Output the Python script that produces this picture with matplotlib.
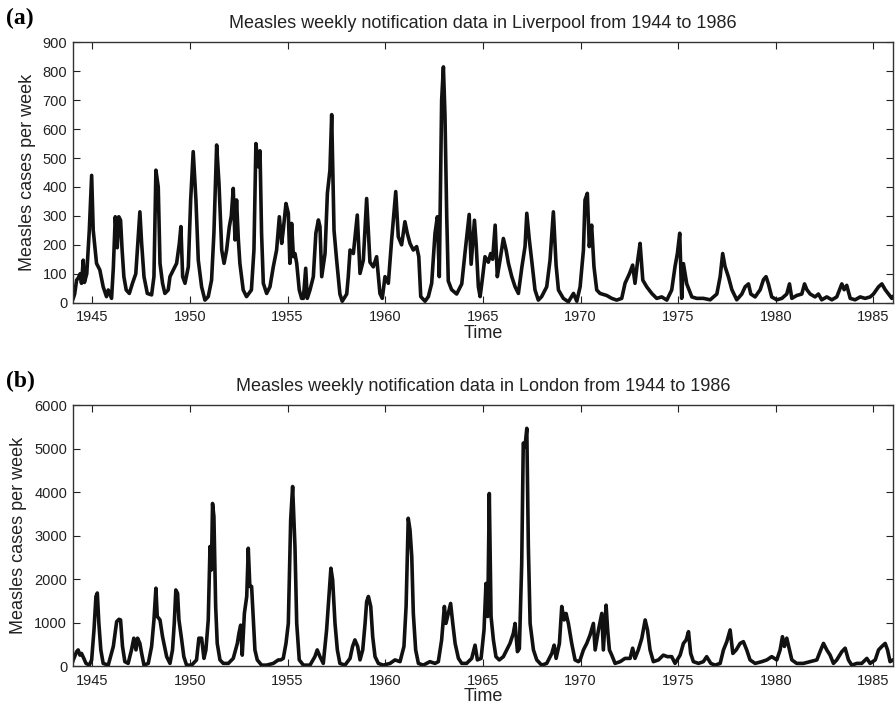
import matplotlib
matplotlib.use("Agg")
import matplotlib.pyplot as plt

plt.rcParams['font.family'] = ['Liberation Sans', 'DejaVu Sans']

# ---------------- data ----------------
liverpool_year = [
    1944.00, 1944.03, 1944.10, 1944.20, 1944.28, 1944.38, 1944.45, 1944.54, 1944.60, 1944.72,
    1944.85, 1944.97, 1945.05, 1945.22, 1945.39, 1945.56, 1945.73, 1945.82, 1945.99, 1946.08,
    1946.18, 1946.28, 1946.36, 1946.45, 1946.53, 1946.62, 1946.74, 1946.90, 1947.06, 1947.23,
    1947.31, 1947.44, 1947.53, 1947.65, 1947.82, 1948.04, 1948.16, 1948.26, 1948.38, 1948.47,
    1948.60, 1948.72, 1948.89, 1948.98, 1949.15, 1949.32, 1949.46, 1949.54, 1949.63, 1949.75,
    1949.92, 1950.04, 1950.17, 1950.31, 1950.43, 1950.60, 1950.77, 1950.94, 1951.11, 1951.23,
    1951.37, 1951.49, 1951.63, 1951.75, 1951.88, 1952.02, 1952.12, 1952.22, 1952.31, 1952.39,
    1952.48, 1952.56, 1952.73, 1952.90, 1953.15, 1953.28, 1953.38, 1953.50, 1953.59, 1953.67,
    1953.76, 1953.93, 1954.10, 1954.27, 1954.44, 1954.58, 1954.70, 1954.78, 1954.92, 1955.04,
    1955.12, 1955.21, 1955.30, 1955.38, 1955.47, 1955.60, 1955.72, 1955.81, 1955.93, 1956.01,
    1956.15, 1956.32, 1956.45, 1956.58, 1956.66, 1956.75, 1956.92, 1957.04, 1957.17, 1957.26,
    1957.38, 1957.51, 1957.68, 1957.80, 1958.03, 1958.11, 1958.20, 1958.37, 1958.57, 1958.71,
    1958.88, 1959.05, 1959.22, 1959.39, 1959.56, 1959.73, 1959.85, 1959.99, 1960.16, 1960.33,
    1960.54, 1960.67, 1960.84, 1961.01, 1961.13, 1961.27, 1961.44, 1961.61, 1961.72, 1961.82,
    1962.04, 1962.21, 1962.38, 1962.55, 1962.67, 1962.77, 1962.89, 1962.98, 1963.06, 1963.15,
    1963.23, 1963.40, 1963.66, 1963.92, 1964.09, 1964.30, 1964.40, 1964.57, 1964.66, 1964.77,
    1964.86, 1964.99, 1965.11, 1965.28, 1965.40, 1965.50, 1965.63, 1965.74, 1965.88, 1966.05,
    1966.19, 1966.31, 1966.48, 1966.65, 1966.82, 1967.00, 1967.16, 1967.25, 1967.38, 1967.50,
    1967.67, 1967.84, 1968.01, 1968.27, 1968.44, 1968.61, 1968.75, 1968.87, 1969.12, 1969.38,
    1969.64, 1969.81, 1969.98, 1970.15, 1970.23, 1970.35, 1970.45, 1970.57, 1970.69, 1970.83,
    1971.00, 1971.34, 1971.60, 1971.85, 1972.11, 1972.28, 1972.51, 1972.67, 1972.79, 1972.93,
    1973.05, 1973.19, 1973.39, 1973.65, 1973.90, 1974.16, 1974.42, 1974.67, 1974.84, 1974.96,
    1975.08, 1975.18, 1975.27, 1975.44, 1975.70, 1975.95, 1976.29, 1976.64, 1976.98, 1977.15,
    1977.28, 1977.40, 1977.57, 1977.75, 1978.00, 1978.26, 1978.43, 1978.60, 1978.72, 1978.94,
    1979.20, 1979.37, 1979.50, 1979.62, 1979.79, 1980.05, 1980.31, 1980.56, 1980.70, 1980.82,
    1981.07, 1981.33, 1981.47, 1981.59, 1981.76, 1982.01, 1982.18, 1982.35, 1982.61, 1982.87,
    1983.12, 1983.38, 1983.50, 1983.63, 1983.81, 1984.06, 1984.32, 1984.57, 1984.83, 1985.00,
    1985.26, 1985.43, 1985.60, 1985.77, 1985.94, 1986.00,
]
liverpool_cases = [
    10, 15, 30, 78, 85, 100, 67, 147, 70, 100,
    250, 440, 251, 136, 113, 55, 21, 44, 15, 120,
    297, 190, 297, 285, 182, 90, 44, 32, 67, 100,
    182, 314, 205, 90, 32, 27, 90, 458, 400, 136,
    67, 32, 44, 90, 113, 136, 205, 263, 90, 67,
    124, 355, 522, 355, 147, 55, 9, 21, 78, 240,
    545, 412, 182, 136, 182, 263, 300, 395, 217, 355,
    220, 136, 44, 21, 44, 182, 550, 470, 525, 240,
    67, 32, 55, 124, 182, 297, 205, 251, 343, 309,
    136, 274, 159, 170, 136, 44, 15, 15, 119, 15,
    44, 90, 240, 286, 263, 90, 170, 378, 458, 650,
    250, 150, 30, 5, 30, 90, 182, 170, 303, 101,
    147, 360, 140, 124, 159, 32, 15, 90, 67, 217,
    384, 228, 200, 280, 240, 205, 182, 194, 159, 21,
    5, 21, 67, 240, 297, 90, 700, 815, 650, 300,
    75, 45, 30, 65, 175, 305, 133, 285, 200, 55,
    21, 90, 159, 140, 170, 150, 268, 90, 147, 222,
    182, 136, 90, 55, 32, 124, 194, 309, 217, 147,
    44, 9, 21, 55, 147, 314, 130, 44, 15, 3,
    32, 5, 55, 182, 355, 378, 194, 268, 124, 44,
    32, 25, 15, 9, 15, 67, 101, 130, 67, 147,
    205, 78, 55, 32, 15, 20, 9, 44, 125, 170,
    240, 15, 135, 65, 20, 15, 15, 10, 30, 90,
    170, 125, 90, 45, 10, 30, 55, 65, 30, 20,
    45, 80, 90, 65, 20, 10, 15, 30, 65, 15,
    25, 30, 65, 45, 30, 20, 30, 10, 20, 10,
    20, 65, 45, 60, 15, 10, 20, 15, 20, 30,
    55, 65, 45, 30, 15, 20,
]

london_year = [
    1944.00, 1944.03, 1944.20, 1944.28, 1944.37, 1944.45, 1944.57, 1944.68, 1944.85, 1944.97,
    1945.09, 1945.19, 1945.26, 1945.34, 1945.44, 1945.56, 1945.82, 1946.08, 1946.25, 1946.37,
    1946.45, 1946.55, 1946.67, 1946.84, 1947.01, 1947.13, 1947.24, 1947.32, 1947.44, 1947.53,
    1947.65, 1947.87, 1948.04, 1948.16, 1948.26, 1948.33, 1948.47, 1948.60, 1948.81, 1948.98,
    1949.11, 1949.20, 1949.28, 1949.37, 1949.44, 1949.58, 1949.69, 1949.83, 1950.09, 1950.34,
    1950.46, 1950.60, 1950.72, 1950.82, 1950.94, 1951.03, 1951.10, 1951.16, 1951.23, 1951.32,
    1951.40, 1951.54, 1951.71, 1951.97, 1952.22, 1952.43, 1952.51, 1952.60, 1952.68, 1952.79,
    1952.91, 1952.99, 1953.07, 1953.16, 1953.24, 1953.33, 1953.45, 1953.67, 1953.93, 1954.27,
    1954.53, 1954.65, 1954.78, 1954.92, 1955.04, 1955.16, 1955.26, 1955.38, 1955.47, 1955.60,
    1955.81, 1956.15, 1956.40, 1956.52, 1956.66, 1956.83, 1957.00, 1957.12, 1957.22, 1957.31,
    1957.43, 1957.55, 1957.68, 1957.94, 1958.20, 1958.33, 1958.45, 1958.59, 1958.71, 1958.85,
    1958.97, 1959.05, 1959.14, 1959.26, 1959.36, 1959.48, 1959.65, 1959.90, 1960.25, 1960.50,
    1960.76, 1960.96, 1961.07, 1961.18, 1961.27, 1961.36, 1961.44, 1961.56, 1961.70, 1961.95,
    1962.29, 1962.55, 1962.72, 1962.89, 1963.03, 1963.11, 1963.23, 1963.35, 1963.46, 1963.58,
    1963.75, 1963.92, 1964.17, 1964.43, 1964.60, 1964.72, 1964.91, 1965.06, 1965.16, 1965.25,
    1965.33, 1965.42, 1965.54, 1965.67, 1965.84, 1966.05, 1966.22, 1966.39, 1966.56, 1966.65,
    1966.77, 1966.87, 1966.99, 1967.07, 1967.16, 1967.25, 1967.33, 1967.42, 1967.59, 1967.76,
    1968.01, 1968.27, 1968.53, 1968.65, 1968.75, 1968.92, 1969.04, 1969.16, 1969.26, 1969.38,
    1969.55, 1969.72, 1969.89, 1969.98, 1970.15, 1970.32, 1970.49, 1970.66, 1970.75, 1970.92,
    1971.09, 1971.17, 1971.31, 1971.39, 1971.48, 1971.60, 1971.77, 1972.03, 1972.28, 1972.54,
    1972.67, 1972.79, 1972.96, 1973.14, 1973.31, 1973.43, 1973.56, 1973.73, 1973.99, 1974.24,
    1974.45, 1974.67, 1974.84, 1975.10, 1975.27, 1975.41, 1975.53, 1975.64, 1975.78, 1976.04,
    1976.29, 1976.46, 1976.67, 1976.89, 1977.15, 1977.32, 1977.49, 1977.66, 1977.80, 1977.97,
    1978.17, 1978.34, 1978.51, 1978.68, 1978.94, 1979.28, 1979.54, 1979.79, 1980.05, 1980.22,
    1980.34, 1980.44, 1980.56, 1980.70, 1980.82, 1981.07, 1981.41, 1981.76, 1982.10, 1982.30,
    1982.44, 1982.61, 1982.78, 1982.95, 1983.12, 1983.38, 1983.55, 1983.72, 1983.89, 1984.15,
    1984.40, 1984.66, 1984.83, 1985.09, 1985.26, 1985.43, 1985.60, 1985.72, 1985.85, 1986.00,
]
london_cases = [
    100, 140, 330, 370, 250, 290, 175, 60, 20, 140,
    830, 1600, 1680, 980, 370, 60, 20, 450, 1020, 1075,
    1060, 450, 100, 60, 370, 640, 370, 640, 520, 290,
    20, 60, 450, 1060, 1790, 1140, 1060, 675, 215, 60,
    370, 980, 1750, 1670, 1060, 600, 215, 20, 20, 140,
    640, 640, 175, 370, 1060, 2750, 2210, 3740, 3440, 1370,
    520, 140, 60, 60, 175, 520, 750, 940, 250, 1210,
    1600, 2710, 1830, 1830, 1140, 370, 140, 20, 20, 60,
    140, 140, 175, 520, 980, 3360, 4130, 2750, 980, 140,
    20, 20, 215, 370, 215, 60, 830, 1600, 2250, 1980,
    980, 370, 60, 20, 175, 450, 600, 450, 140, 370,
    980, 1480, 1600, 1370, 675, 215, 60, 20, 60, 140,
    100, 450, 1370, 3400, 3130, 2520, 1210, 370, 60, 20,
    100, 60, 100, 600, 1370, 980, 1210, 1440, 980, 520,
    175, 60, 60, 175, 480, 140, 175, 830, 1900, 1140,
    3970, 1140, 600, 215, 140, 215, 370, 520, 750, 980,
    330, 400, 2360, 5130, 5050, 5470, 2750, 980, 370, 140,
    20, 60, 290, 480, 175, 520, 1370, 1060, 1210, 980,
    520, 140, 100, 140, 370, 520, 715, 980, 370, 830,
    1210, 370, 1400, 830, 370, 250, 60, 100, 175, 175,
    410, 175, 370, 640, 1060, 830, 370, 100, 140, 250,
    215, 215, 60, 250, 520, 600, 790, 290, 100, 60,
    100, 215, 60, 20, 60, 370, 560, 830, 290, 370,
    520, 560, 370, 140, 60, 100, 140, 215, 140, 370,
    675, 450, 640, 370, 140, 60, 60, 100, 140, 370,
    520, 370, 250, 60, 140, 330, 410, 140, 20, 60,
    60, 175, 60, 140, 370, 450, 520, 370, 100, 140,
]

x_ticks = [1945, 1950, 1955, 1960, 1965, 1970, 1975, 1980, 1985]
liverpool_yticks = [0, 100, 200, 300, 400, 500, 600, 700, 800, 900]
london_yticks = [0, 1000, 2000, 3000, 4000, 5000, 6000]

panels = [
    ("(a)", "Measles weekly notification data in Liverpool from 1944 to 1986",
     liverpool_year, liverpool_cases, liverpool_yticks),
    ("(b)", "Measles weekly notification data in London from 1944 to 1986",
     london_year, london_cases, london_yticks),
]

# ---------------- figure ----------------
W, H = 896, 707
fig = plt.figure(figsize=(W / 100, H / 100), dpi=100)

axes_boxes = [
    # left, bottom, width, height in figure fraction
    (72.7 / W, 1 - 302.7 / H, (893 - 72.7) / W, (302.7 - 42.3) / H),
    (72.7 / W, 1 - 666.0 / H, (893 - 72.7) / W, (666.0 - 405.3) / H),
]
letter_y = [8 / H, 371 / H]

for (letter, title, xs, ys, yt), box, ly in zip(panels, axes_boxes, letter_y):
    ax = fig.add_axes(box)
    ax.plot(xs, ys, color="#111111", lw=2.6, solid_joinstyle="round")
    ax.set_xlim(1944, 1986)
    ax.set_ylim(yt[0], yt[-1])
    ax.set_xticks(x_ticks)
    ax.set_yticks(yt)
    ax.tick_params(direction="in", top=True, right=True, length=5, width=0.8,
                   labelsize=10.5, colors="#222222", pad=4)
    ax.tick_params(axis="x", pad=5.5)
    for s in ax.spines.values():
        s.set_linewidth(1.0)
        s.set_color("#333333")
    ax.set_title(title, fontsize=13, pad=10, color="#222222")
    ax.set_xlabel("Time", fontsize=13, labelpad=0.5, color="#222222")
    ax.set_ylabel("Measles cases per week", fontsize=13, labelpad=5, color="#222222")
    fig.text(6 / W, 1 - ly, letter, fontsize=17, fontweight="bold",
             family=["Liberation Serif", "DejaVu Serif"], ha="left", va="top")

fig.savefig("out.png", dpi=100)
